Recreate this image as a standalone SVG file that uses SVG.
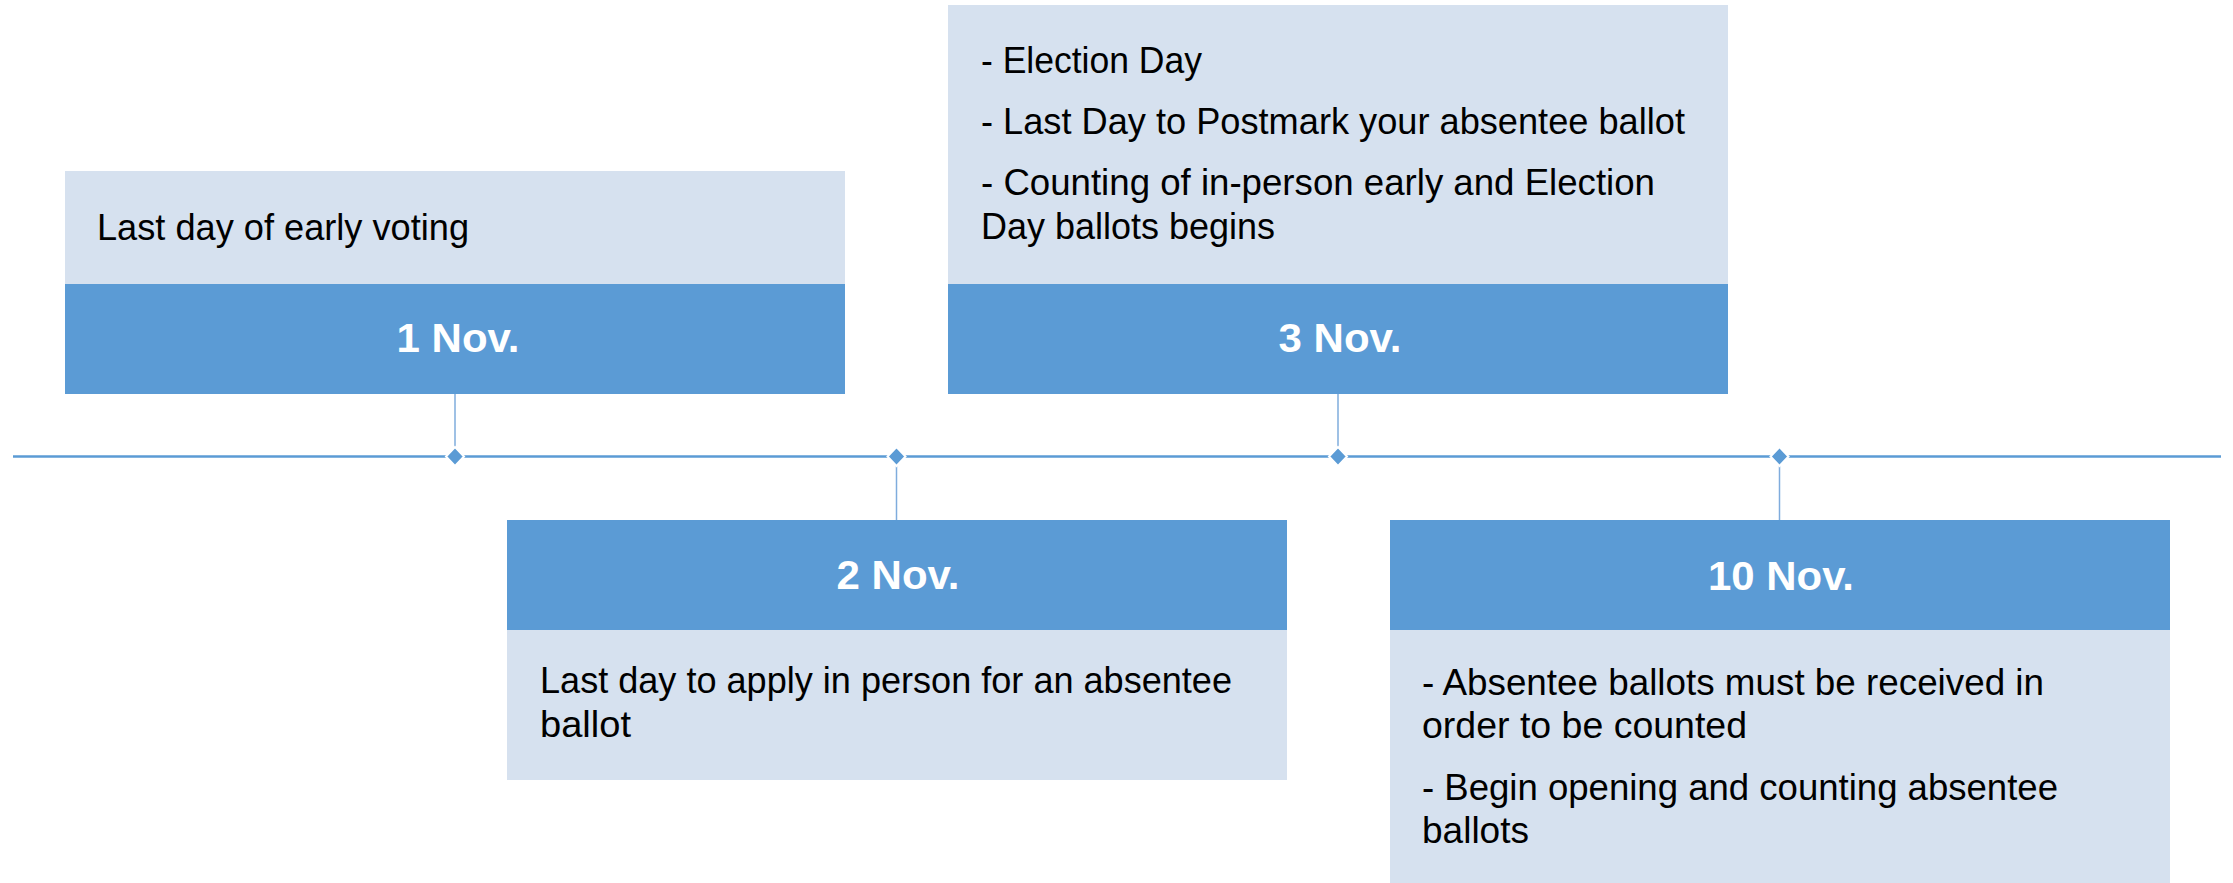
<svg xmlns="http://www.w3.org/2000/svg" width="2233" height="883" viewBox="0 0 2233 883">
<style>
.light{fill:#D6E1EF;}
.dark{fill:#5B9BD5;}
.t{font-family:"Liberation Sans",Arial,sans-serif;font-size:36px;fill:#000;}
.d{font-family:"Liberation Sans",Arial,sans-serif;font-size:40px;font-weight:bold;fill:#fff;text-anchor:middle;}
.axis{stroke:#5B9BD5;stroke-width:2.5;fill:none;}
.stem{stroke:#7FACDD;stroke-width:1.5;fill:none;}
.dia{fill:#5B9BD5;stroke:#fff;stroke-width:2;}
</style>
<rect width="2233" height="883" fill="#fff"/>
<g id="connectors">
<line class="axis" x1="13" y1="456.5" x2="2221" y2="456.5"/>
<line class="stem" x1="455" y1="394" x2="455" y2="447"/>
<line class="stem" x1="896.5" y1="466" x2="896.5" y2="520"/>
<line class="stem" x1="1338" y1="394" x2="1338" y2="447"/>
<line class="stem" x1="1779.5" y1="466" x2="1779.5" y2="520"/>
<path class="dia" d="M455 447 L464 456.5 L455 466 L446 456.5 Z"/>
<path class="dia" d="M896.5 447 L905.5 456.5 L896.5 466 L887.5 456.5 Z"/>
<path class="dia" d="M1338 447 L1347 456.5 L1338 466 L1329 456.5 Z"/>
<path class="dia" d="M1779.5 447 L1788.5 456.5 L1779.5 466 L1770.5 456.5 Z"/>
</g>
<g id="node-nov1">
<rect class="light" x="65" y="171" width="780" height="113"/>
<rect class="dark" x="65" y="284" width="780" height="110"/>
<text class="t" x="97" y="240" textLength="372" lengthAdjust="spacingAndGlyphs">Last day of early voting</text>
<text class="d" x="458" y="352" textLength="123" lengthAdjust="spacingAndGlyphs">1 Nov.</text>
</g>
<g id="node-nov2">
<rect class="dark" x="507" y="520" width="780" height="110"/>
<rect class="light" x="507" y="630" width="780" height="150"/>
<text class="d" x="898" y="589" textLength="123" lengthAdjust="spacingAndGlyphs">2 Nov.</text>
<text class="t" x="540" y="693" textLength="692" lengthAdjust="spacingAndGlyphs">Last day to apply in person for an absentee</text>
<text class="t" x="540" y="737" textLength="91" lengthAdjust="spacingAndGlyphs">ballot</text>
</g>
<g id="node-nov3">
<rect class="light" x="948" y="5" width="780" height="279"/>
<rect class="dark" x="948" y="284" width="780" height="110"/>
<text class="t" x="981" y="73" textLength="221" lengthAdjust="spacingAndGlyphs">- Election Day</text>
<text class="t" x="981" y="134" textLength="704" lengthAdjust="spacingAndGlyphs">- Last Day to Postmark your absentee ballot</text>
<text class="t" x="981" y="195" textLength="674" lengthAdjust="spacingAndGlyphs">- Counting of in-person early and Election</text>
<text class="t" x="981" y="239" textLength="294" lengthAdjust="spacingAndGlyphs">Day ballots begins</text>
<text class="d" x="1340" y="352" textLength="123" lengthAdjust="spacingAndGlyphs">3 Nov.</text>
</g>
<g id="node-nov10">
<rect class="dark" x="1390" y="520" width="780" height="110"/>
<rect class="light" x="1390" y="630" width="780" height="253"/>
<text class="d" x="1781" y="590" textLength="146" lengthAdjust="spacingAndGlyphs">10 Nov.</text>
<text class="t" x="1422" y="695" textLength="622" lengthAdjust="spacingAndGlyphs">- Absentee ballots must be received in</text>
<text class="t" x="1422" y="738" textLength="325" lengthAdjust="spacingAndGlyphs">order to be counted</text>
<text class="t" x="1422" y="800" textLength="636" lengthAdjust="spacingAndGlyphs">- Begin opening and counting absentee</text>
<text class="t" x="1422" y="843" textLength="107" lengthAdjust="spacingAndGlyphs">ballots</text>
</g>
</svg>
